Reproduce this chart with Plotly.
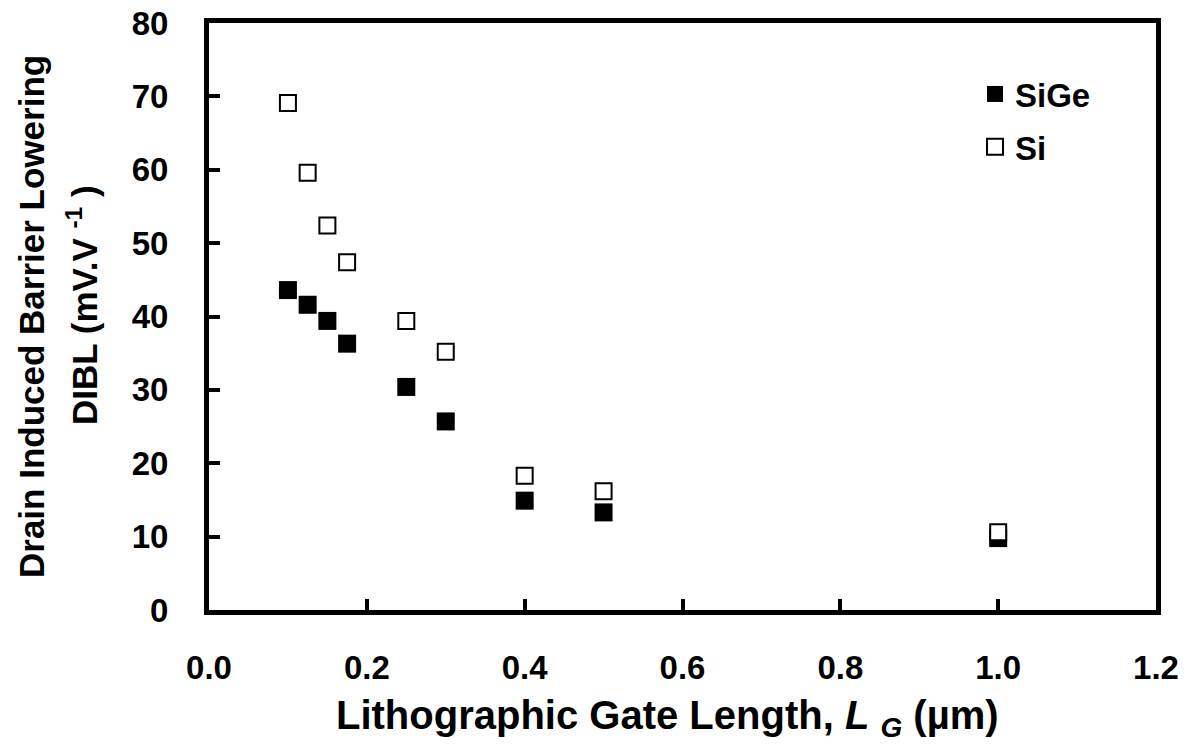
import plotly.graph_objects as go

gate_length_um = [0.1, 0.125, 0.15, 0.175, 0.25, 0.3, 0.4, 0.5, 1.0]
dibl_sige = [43.6, 41.6, 39.4, 36.3, 30.4, 25.7, 14.9, 13.3, 9.8]
dibl_si = [69.1, 59.6, 52.4, 47.4, 39.4, 35.2, 18.3, 16.2, 10.6]
x_ticks = [0.0, 0.2, 0.4, 0.6, 0.8, 1.0, 1.2]
x_tick_text = ["0.0", "0.2", "0.4", "0.6", "0.8", "1.0", "1.2"]
y_ticks = [0, 10, 20, 30, 40, 50, 60, 70, 80]

FONT = "Liberation Sans, Arial, sans-serif"

fig = go.Figure()
fig.add_trace(go.Scatter(
    x=gate_length_um, y=dibl_sige, mode="markers", name="SiGe", legendgroup="a",
    marker=dict(symbol="square", size=18, color="black", line=dict(width=0)),
))
fig.add_trace(go.Scatter(
    x=gate_length_um, y=dibl_si, mode="markers", name="Si", legendgroup="b",
    marker=dict(symbol="square", size=16, color="white", line=dict(width=2, color="black")),
))

axis_common = dict(
    showline=True, linecolor="black", linewidth=5, mirror=True,
    ticks="inside", ticklen=11, tickwidth=4, tickcolor="black",
    showgrid=False, zeroline=False, automargin=False,
    tickfont=dict(family=FONT, size=33, color="black", weight="bold"),
)

fig.update_xaxes(
    range=[0, 1.2], tickvals=x_ticks, ticktext=x_tick_text,
    ticklabelstandoff=24,
    **axis_common,
)
fig.update_yaxes(
    range=[0, 80], tickvals=y_ticks,
    ticklabelstandoff=29,
    **axis_common,
)

PW, PL, PT, PH = 947, 209, 23, 587

fig.add_annotation(
    text="Lithographic Gate Length, <i>L</i> <sub><i>G</i></sub> (µm)",
    xref="paper", yref="paper", x=(667 - PL) / PW, y=(PT + PH - 718) / PH,
    xanchor="center", yanchor="middle", showarrow=False,
    font=dict(family=FONT, size=40, color="black", weight="bold"),
)
fig.add_annotation(
    text="Drain Induced Barrier Lowering", textangle=-90,
    xref="paper", yref="paper", x=(32 - PL) / PW, y=(PT + PH - 317) / PH,
    xanchor="center", yanchor="middle", showarrow=False,
    font=dict(family=FONT, size=35, color="black", weight="bold"),
)
fig.add_annotation(
    text="DIBL (mV.V <sup>-1</sup> )", textangle=-90,
    xref="paper", yref="paper", x=(82 - PL) / PW, y=(PT + PH - 305) / PH,
    xanchor="center", yanchor="middle", showarrow=False,
    font=dict(family=FONT, size=35, color="black", weight="bold"),
)

fig.update_layout(
    width=1192, height=749,
    margin=dict(l=PL, r=1192 - PL - PW, t=PT, b=749 - PT - PH),
    paper_bgcolor="white", plot_bgcolor="white",
    legend=dict(
        x=(975 - PL) / PW, y=(PT + PH - 66) / PH, xanchor="left", yanchor="top",
        bgcolor="rgba(0,0,0,0)",
        font=dict(family=FONT, size=33, color="black", weight="bold"),
        itemsizing="trace", tracegroupgap=7,
    ),
)

fig.write_html("out.html", config={"displayModeBar": False},
               post_script="document.body.style.margin='0';")
